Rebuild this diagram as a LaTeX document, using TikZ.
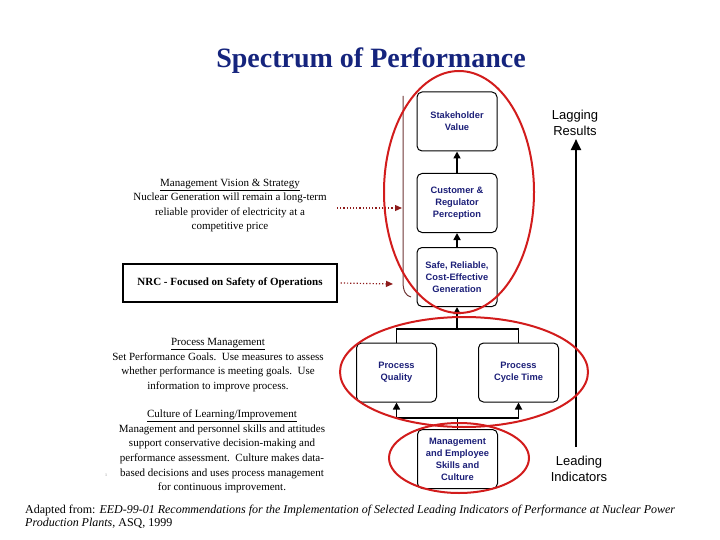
\documentclass[tikz,border=0pt]{standalone}
\usepackage{fontspec}
\setmainfont{Liberation Serif}
\setsansfont{Liberation Sans}
\usetikzlibrary{arrows.meta, positioning, calc}

\definecolor{titleblue}{HTML}{15247D}
\definecolor{boxblue}{HTML}{1C1F78}
\definecolor{ringred}{HTML}{D21C1C}
\definecolor{dotred}{HTML}{8E1B1B}
\definecolor{bracebrown}{HTML}{6E3535}

\tikzset{
  perfbox/.style={draw, rounded corners=5pt, line width=1pt, minimum width=80pt,
    minimum height=59pt, align=center, text=boxblue,
    font=\sffamily\bfseries\fontsize{9.3}{12}\selectfont},
  uparrow/.style={line width=1.6pt, -{Triangle[width=7pt,length=7pt]}},
  link/.style={line width=1.6pt},
  dotarrow/.style={dotred, dotted, line width=1.2pt, -{Triangle[width=6pt,length=7pt]}},
  ring/.style={draw=ringred, line width=2pt},
  sidetext/.style={align=center, font=\fontsize{11}{14.6}\selectfont},
  endlabel/.style={align=center, font=\sffamily\fontsize{13}{15.5}\selectfont},
}

\begin{document}
\begin{tikzpicture}[x=1pt, y=-1pt]
  \useasboundingbox (0,0) rectangle (720,540);

  % Title
  \node[font=\bfseries\fontsize{28}{30}\selectfont, text=titleblue] (title) at (371,61) {Spectrum of Performance};

  % Result column
  \node[perfbox] (stake) at (457,121.5) {Stakeholder\\Value};
  \node[perfbox] (cust) at (457,203) {Customer \&\\Regulator\\Perception};
  \node[perfbox] (safe) at (457,277) {Safe, Reliable,\\Cost-Effective\\Generation};

  % Process boxes
  \node[perfbox] (pq) at (396.5,372.5) {Process\\Quality};
  \node[perfbox] (pct) at (518.5,372.5) {Process\\Cycle Time};
  \node[perfbox] (mgmt) at (457.5,459) {Management\\and Employee\\Skills and\\Culture};

  % Connectors
  \draw[uparrow] (cust.north) -- (stake.south);
  \draw[uparrow] (safe.north) -- (cust.south);
  \coordinate (joinUp) at (457,329);
  \draw[link] (pq.north) |- (joinUp) -| (pct.north);
  \draw[uparrow] (joinUp) -- (safe.south);
  \coordinate (joinLow) at (457.5,418);
  \draw[link] (mgmt.north) -- (joinLow);
  \draw[uparrow] (joinLow) -| (pq.south);
  \draw[uparrow] (joinLow) -| (pct.south);

  % Left side texts
  \node[sidetext] (vision) at (230,205.5) {\underline{Management Vision \& Strategy}\\Nuclear Generation will remain a long-term\\reliable provider of electricity at a\\competitive price};
  \node[draw, line width=1.2pt, minimum width=214pt, minimum height=38pt,
    font=\bfseries\fontsize{11}{12}\selectfont] (nrc) at (230,283) {NRC - Focused on Safety of Operations};
  \node[sidetext] (procmgmt) at (218,365) {\underline{Process Management}\\Set Performance Goals.\ \ Use measures to assess\\whether performance is meeting goals.\ \ Use\\information to improve process.};
  \node[sidetext] (culture) at (222,451.5) {\underline{Culture of Learning/Improvement}\\Management and personnel skills and attitudes\\support conservative decision-making and\\performance assessment.\ \ Culture makes data-\\based decisions and uses process management\\for continuous improvement.};
  \node[text=gray, font=\fontsize{4}{4}\selectfont] (pagemark) at (106,475) {1};

  % Bracket and dotted arrows
  \draw[bracebrown, line width=1pt] (403,96) -- (403,282) .. controls (403,291) and (406,296) .. (411,297);
  \coordinate (visionTail) at (337,208);
  \coordinate (visionTip) at (402,208);
  \coordinate (nrcTip) at (393,284);
  \draw[dotarrow] (visionTail) -- (visionTip);
  \draw[dotarrow] ([xshift=3pt]nrc.east) -- (nrcTip);

  % Lagging / leading axis
  \node[endlabel] (lagging) at (575,123) {Lagging\\Results};
  \node[endlabel] (leading) at (579,469) {Leading\\Indicators};
  \coordinate (axisFoot) at (576,447);
  \draw[line width=2pt, -{Triangle[width=10pt,length=11pt]}] (axisFoot) -- (lagging.south -| axisFoot);

  % Red rings
  \draw[ring] (459,192) ellipse [x radius=75, y radius=121];
  \draw[ring] (464,372) ellipse [x radius=124, y radius=55];
  \draw[ring] (459,458) ellipse [x radius=70, y radius=35];

  % Source
  \node[anchor=north west, align=left, inner sep=0pt, font=\fontsize{12}{13}\selectfont] (source) at (25,505)
    {Adapted from: \textit{EED-99-01 Recommendations for the Implementation of Selected Leading Indicators of Performance at Nuclear Power}\\\textit{Production Plants}, ASQ, 1999};
\end{tikzpicture}
\end{document}
